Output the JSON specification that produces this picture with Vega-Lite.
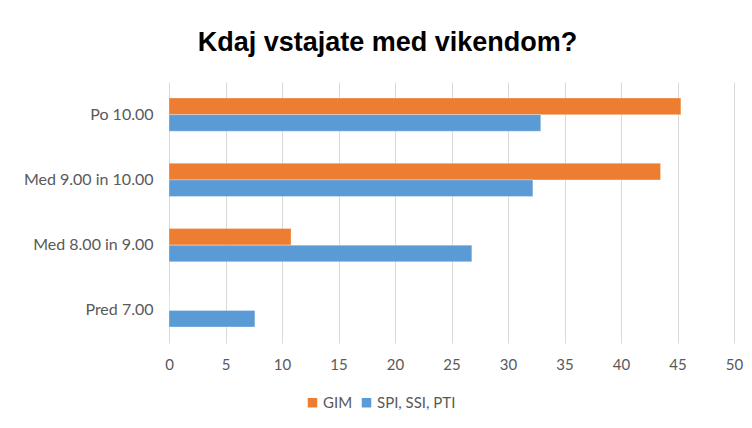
{
  "$schema": "https://vega.github.io/schema/vega-lite/v6.json",
  "autosize": {"type": "none"},
  "width": 565,
  "height": 261,
  "padding": {"left": 169, "top": 82, "right": 18, "bottom": 85},
  "background": "white",
  "title": {
    "text": "Kdaj vstajate med vikendom?",
    "font": "Liberation Sans",
    "fontSize": 27,
    "fontWeight": "bold",
    "color": "#000000",
    "anchor": "middle",
    "dx": -64,
    "offset": 25
  },
  "data": {
    "values": [
      {"kategorija": "Po 10.00", "skupina": "GIM", "odstotek": 45.3},
      {"kategorija": "Po 10.00", "skupina": "SPI, SSI, PTI", "odstotek": 32.9},
      {"kategorija": "Med 9.00 in 10.00", "skupina": "GIM", "odstotek": 43.5},
      {"kategorija": "Med 9.00 in 10.00", "skupina": "SPI, SSI, PTI", "odstotek": 32.2},
      {"kategorija": "Med 8.00 in 9.00", "skupina": "GIM", "odstotek": 10.8},
      {"kategorija": "Med 8.00 in 9.00", "skupina": "SPI, SSI, PTI", "odstotek": 26.8},
      {"kategorija": "Pred 7.00", "skupina": "GIM", "odstotek": 0},
      {"kategorija": "Pred 7.00", "skupina": "SPI, SSI, PTI", "odstotek": 7.6}
    ]
  },
  "mark": {"type": "bar", "stroke": "white", "strokeWidth": 0.5, "strokeOpacity": 0.6},
  "encoding": {
    "y": {
      "field": "kategorija",
      "type": "nominal",
      "sort": ["Po 10.00", "Med 9.00 in 10.00", "Med 8.00 in 9.00", "Pred 7.00"],
      "scale": {"paddingInner": 0.49, "paddingOuter": 0.245},
      "axis": {
        "title": null,
        "domain": false,
        "ticks": false,
        "grid": false,
        "labelFont": "Lato",
        "labelFontSize": 16,
        "labelColor": "#595959",
        "labelPadding": 16
      }
    },
    "yOffset": {
      "field": "skupina",
      "type": "nominal",
      "sort": ["GIM", "SPI, SSI, PTI"]
    },
    "x": {
      "field": "odstotek",
      "type": "quantitative",
      "scale": {"domain": [0, 50], "nice": false},
      "axis": {
        "title": null,
        "values": [0, 5, 10, 15, 20, 25, 30, 35, 40, 45, 50],
        "domain": false,
        "ticks": false,
        "grid": true,
        "gridColor": "#D9D9D9",
        "gridWidth": 1,
        "labelFlush": false,
        "labelFont": "Lato",
        "labelFontSize": 15,
        "labelColor": "#595959",
        "labelPadding": 14
      }
    },
    "color": {
      "field": "skupina",
      "type": "nominal",
      "scale": {"domain": ["GIM", "SPI, SSI, PTI"], "range": ["#ED7D31", "#5B9BD5"]},
      "legend": {
        "title": null,
        "orient": "none",
        "direction": "horizontal",
        "legendX": 136,
        "legendY": 313,
        "symbolType": "square",
        "symbolSize": 90,
        "symbolStrokeWidth": 0,
        "labelFont": "Lato",
        "labelFontSize": 15,
        "labelColor": "#595959",
        "columnPadding": 6,
        "labelOffset": 3
      }
    }
  },
  "config": {"view": {"stroke": null}}
}
